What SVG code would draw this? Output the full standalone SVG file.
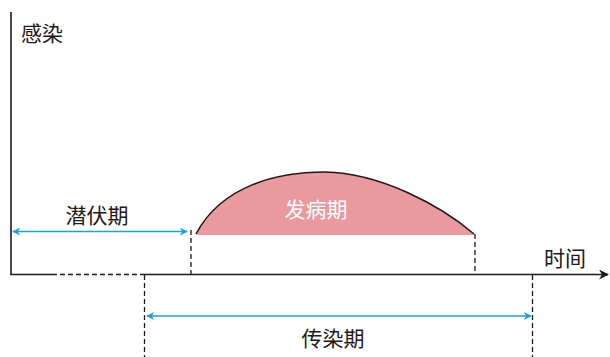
<svg xmlns="http://www.w3.org/2000/svg" width="610" height="357" viewBox="0 0 610 357">
<style>
.t{font-family:"Noto Sans CJK SC","Noto Sans",sans-serif;font-size:21px;fill:#231815;text-anchor:middle;dominant-baseline:central}
.ax{stroke:#231815;stroke-width:1.6;fill:none}
.dash{stroke:#231815;stroke-width:1.3;stroke-dasharray:5,3;fill:none}
.blue{stroke:#1aa3dd;stroke-width:1.6;fill:none}
</style>
<defs>
<marker id="ba" viewBox="0 0 10 10" refX="9" refY="5" markerWidth="8" markerHeight="8" markerUnits="userSpaceOnUse" orient="auto-start-reverse">
<path d="M0,0 L10,5 L0,10 L3,5 Z" fill="#1aa3dd"/>
</marker>
<marker id="ka" viewBox="0 0 10 10" refX="9" refY="5" markerWidth="10" markerHeight="10" markerUnits="userSpaceOnUse" orient="auto">
<path d="M0,0 L10,5 L0,10 L3,5 Z" fill="#231815"/>
</marker>
</defs>
<g id="curve">
<path d="M196,235 C222,185 278,172 325,172 C380,173 440,205 474,235 Z" fill="#ea999e"/>
<path d="M196,234 C222,185 278,172 325,172 C380,173 440,205 474,234" stroke="#231815" stroke-width="1.6" fill="none"/>
<text class="t" x="316" y="208" style="fill:#ffffff">发病期</text>
</g>
<g id="axes">
<line class="ax" x1="11" y1="12" x2="11" y2="275"/>
<line class="ax" x1="10.2" y1="274.5" x2="52" y2="274.5"/>
<line class="dash" x1="52" y1="274.5" x2="145" y2="274.5"/>
<line class="ax" x1="145" y1="274.5" x2="608" y2="274.5" marker-end="url(#ka)"/>
<text class="t" x="42" y="32">感染</text>
<text class="t" x="565" y="257">时间</text>
</g>
<g id="connectors">
<line class="dash" x1="191" y1="230" x2="191" y2="274"/>
<line class="dash" x1="475" y1="234" x2="475" y2="274"/>
<line class="dash" x1="144.5" y1="275" x2="144.5" y2="357"/>
<line class="dash" x1="532.5" y1="275" x2="532.5" y2="357"/>
<line class="blue" x1="13" y1="231.5" x2="187" y2="231.5" marker-start="url(#ba)" marker-end="url(#ba)"/>
<line class="blue" x1="147" y1="316" x2="531" y2="316" marker-start="url(#ba)" marker-end="url(#ba)"/>
</g>
<g id="latent">
<text class="t" x="97" y="214">潜伏期</text>
</g>
<g id="infectious">
<text class="t" x="333" y="337">传染期</text>
</g>
</svg>
